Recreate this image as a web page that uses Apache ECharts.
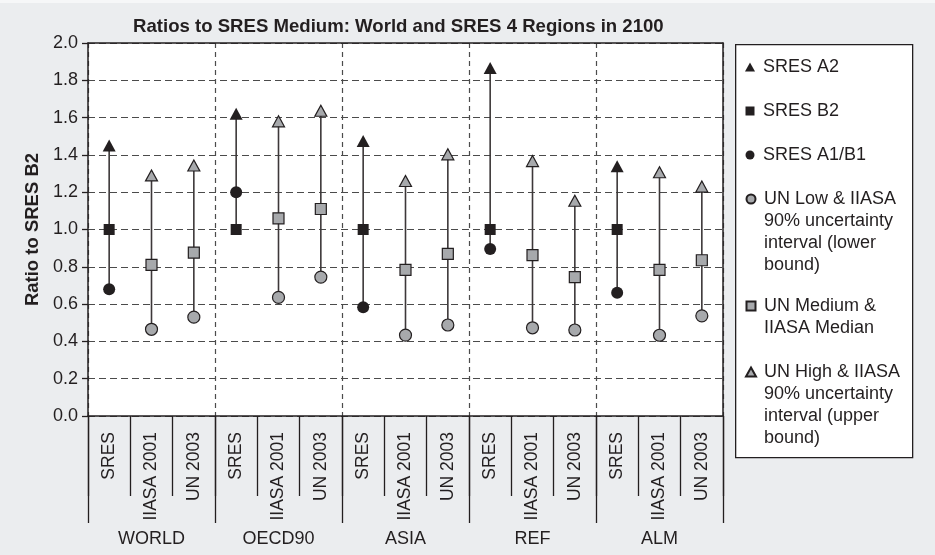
<!DOCTYPE html>
<html>
<head>
<meta charset="utf-8">
<script src="https://cdn.jsdelivr.net/npm/echarts@6/dist/echarts.min.js"></script>
<style>
  html, body { margin: 0; padding: 0; background: #f6f7f8; }
  #chart { position: absolute; left: 0; top: 3px; width: 935px; height: 552px; }
</style>
</head>
<body>
<div id="chart"></div>
<script>
// Regions and data sources along the x axis
const regions = ['WORLD', 'OECD90', 'ASIA', 'REF', 'ALM'];
const sources = ['SRES', 'IIASA 2001', 'UN 2003'];

// SRES scenarios, ratio to SRES B2 in 2100 (one value per region)
const sresA2   = [1.45, 1.62, 1.474, 1.866, 1.339];
const sresB2   = [1.00, 1.00, 1.00, 1.00, 1.00];
const sresA1B1 = [0.68, 1.20, 0.583, 0.895, 0.661];

// IIASA 2001: 90% interval lower bound, median, upper bound
const iiasaLow  = [0.465, 0.636, 0.434, 0.473, 0.433];
const iiasaMed  = [0.81, 1.06, 0.783, 0.863, 0.783];
const iiasaHigh = [1.29, 1.58, 1.26, 1.367, 1.307];

// UN 2003: low, medium, high variants
const unLow  = [0.53, 0.745, 0.488, 0.461, 0.537];
const unMed  = [0.876, 1.11, 0.869, 0.745, 0.835];
const unHigh = [1.343, 1.637, 1.403, 1.154, 1.23];

// Y axis ticks
const yMin = 0, yMax = 2.0, yStep = 0.2;

const seriesNames = [
  'SRES A2',
  'SRES B2',
  'SRES A1/B1',
  'UN Low & IIASA 90% uncertainty interval (lower bound)',
  'UN Medium & IIASA Median',
  'UN High & IIASA 90% uncertainty interval (upper bound)'
];
const legendLines = [
  ['SRES A2'],
  ['SRES B2'],
  ['SRES A1/B1'],
  ['UN Low & IIASA', '90% uncertainty', 'interval (lower', 'bound)'],
  ['UN Medium &', 'IIASA Median'],
  ['UN High & IIASA', '90% uncertainty', 'interval (upper', 'bound)']
];

// Flattened category list: one slot per region x source
const categories = [];
regions.forEach(() => sources.forEach(s => categories.push(s)));
const nSrc = sources.length;

// Place per-region values into the source slot they belong to
function place(values, srcIdx) {
  const out = categories.map(() => '-');
  values.forEach((v, r) => { out[r * nSrc + srcIdx] = v; });
  return out;
}
function placeTwo(a, b) {
  const out = place(a, 1);
  b.forEach((v, r) => { out[r * nSrc + 2] = v; });
  return out;
}

const dA2 = place(sresA2, 0);
const dB2 = place(sresB2, 0);
const dA1B1 = place(sresA1B1, 0);
const dLow = placeTwo(iiasaLow, unLow);
const dMed = placeTwo(iiasaMed, unMed);
const dHigh = placeTwo(iiasaHigh, unHigh);

// Vertical range line for each slot, spanning its lowest to highest marker
const stems = categories.map((c, i) => {
  const vals = [dA2, dB2, dA1B1, dLow, dMed, dHigh]
    .map(d => d[i]).filter(v => v !== '-');
  return [i, Math.min.apply(null, vals), Math.max.apply(null, vals)];
});

const INK = '#231f20';
const GREY = '#a7a9ac';
const FONT = 'Liberation Sans, Arial, Helvetica, sans-serif';
const gridDash = { color: '#4b4b4b', width: 1.2, type: [7, 4] };

// Legend: one entry per component so that multi-line captions keep
// their marker beside the first line. The icon box is as tall as the
// caption block, with the marker drawn in its top 9px.
const LINE_H = 22;
const legendTops = [65, 109, 153, 197, 304, 370]; // first-line centres
const markerPaths = {
  triangle: 'M5,0 L10,9 L0,9 Z',
  rect: 'M0.5,0 L9.5,0 L9.5,9 L0.5,9 Z',
  circle: 'M0.5,4.5 A4.5,4.5 0 1,1 9.5,4.5 A4.5,4.5 0 1,1 0.5,4.5 Z'
};
const legendIcons = ['triangle', 'rect', 'circle', 'circle', 'rect', 'triangle'];
const legends = seriesNames.map((name, i) => {
  const n = legendLines[i].length;
  const h = 9 + LINE_H * (n - 1);
  const path = 'path://M0,0 L0,0 ' + markerPaths[legendIcons[i]] + ' M13,' + h + ' L13,' + h;
  return {
    orient: 'vertical',
    left: 745,
    top: legendTops[i] - 3 - 9,
    padding: 0,
    itemWidth: 13,
    itemHeight: h,
    selectedMode: false,
    data: [{ name: name, icon: path }],
    formatter: () => legendLines[i].join('\n'),
    textStyle: { fontFamily: FONT, fontSize: 18, lineHeight: LINE_H, color: INK }
  };
});

function scatter(name, data, symbol, size, fill, border) {
  return {
    name: name,
    type: 'scatter',
    data: data,
    symbol: symbol,
    symbolSize: size,
    z: 3,
    itemStyle: {
      color: fill,
      borderColor: INK,
      borderWidth: border,
      opacity: 1
    },
    emphasis: { disabled: true }
  };
}

const chart = echarts.init(document.getElementById('chart'), null, { renderer: 'canvas' });

chart.setOption({
  backgroundColor: '#ebedef',
  animation: false,
  textStyle: { fontFamily: FONT, color: INK },
  title: {
    text: 'Ratios to SRES Medium: World and SRES 4 Regions in 2100',
    left: 133,
    top: 14,
    padding: 0,
    textStyle: { fontFamily: FONT, fontSize: 18.6, fontWeight: 'bold', color: INK }
  },
  // Frame of the legend panel
  graphic: [{
    type: 'rect',
    left: 735,
    top: 41,
    z: -1,
    shape: { width: 177, height: 413 },
    style: { fill: '#ffffff', stroke: INK, lineWidth: 1.3 }
  }],
  legend: legends,
  grid: {
    left: 88,
    right: 212,
    top: 40,
    bottom: 139,
    show: true,
    backgroundColor: '#ffffff',
    borderWidth: 0
  },
  xAxis: [
    {
      type: 'category',
      data: categories,
      position: 'bottom',
      boundaryGap: true,
      axisLine: { show: true, lineStyle: { color: INK, width: 1.5 } },
      axisTick: { show: true, interval: 0, length: 80, lineStyle: { color: INK, width: 1.3 } },
      axisLabel: {
        interval: 0, rotate: 90, margin: 16,
        fontFamily: FONT, fontSize: 17.5, color: INK
      },
      splitLine: { show: false }
    },
    {
      type: 'category',
      data: regions,
      position: 'bottom',
      boundaryGap: true,
      axisLine: { show: false },
      axisTick: { show: true, interval: 0, length: 107, lineStyle: { color: INK, width: 1.3 } },
      axisLabel: { interval: 0, margin: 114, fontFamily: FONT, fontSize: 18, color: INK },
      splitLine: { show: true, interval: 0, lineStyle: { color: '#4b4b4b', width: 1.2, type: [5, 4] } }
    },
    {
      type: 'category',
      data: regions,
      position: 'top',
      axisLine: { show: true, lineStyle: { color: INK, width: 1.5 } },
      axisTick: { show: false },
      axisLabel: { show: false },
      splitLine: { show: false }
    }
  ],
  yAxis: [
    {
      type: 'value',
      min: yMin,
      max: yMax,
      interval: yStep,
      name: 'Ratio to SRES B2',
      nameLocation: 'middle',
      nameRotate: 90,
      nameGap: 41,
      nameTextStyle: { fontFamily: FONT, fontSize: 18.5, fontWeight: 'bold', color: INK },
      axisLine: { show: true, lineStyle: { color: INK, width: 1.5 } },
      axisTick: { show: true, length: 6, lineStyle: { color: INK, width: 1.3 } },
      axisLabel: {
        margin: 10, fontFamily: FONT, fontSize: 18, color: INK,
        formatter: v => v.toFixed(1)
      },
      splitLine: { show: true, lineStyle: gridDash }
    },
    {
      type: 'value',
      min: yMin,
      max: yMax,
      interval: yStep,
      position: 'right',
      axisLine: { show: true, lineStyle: { color: INK, width: 1.5 } },
      axisTick: { show: false },
      axisLabel: { show: false },
      splitLine: { show: false }
    }
  ],
  series: [
    {
      name: 'range',
      type: 'custom',
      xAxisIndex: 0,
      yAxisIndex: 0,
      z: 2,
      data: stems,
      encode: { x: 0, y: [1, 2] },
      renderItem: (params, api) => {
        const p1 = api.coord([api.value(0), api.value(1)]);
        const p2 = api.coord([api.value(0), api.value(2)]);
        return {
          type: 'line',
          shape: { x1: p1[0], y1: p1[1], x2: p2[0], y2: p2[1] },
          style: { stroke: '#3d3839', lineWidth: 1.6 }
        };
      },
      silent: true
    },
    scatter(seriesNames[0], dA2, 'triangle', [13, 12], INK, 0),
    scatter(seriesNames[1], dB2, 'rect', [11, 11], INK, 0),
    scatter(seriesNames[2], dA1B1, 'circle', 12, INK, 0),
    scatter(seriesNames[3], dLow, 'circle', 12, GREY, 1.2),
    scatter(seriesNames[4], dMed, 'rect', [11, 11], GREY, 1.2),
    scatter(seriesNames[5], dHigh, 'triangle', [12, 11], GREY, 1.2)
  ]
});
</script>
</body>
</html>
